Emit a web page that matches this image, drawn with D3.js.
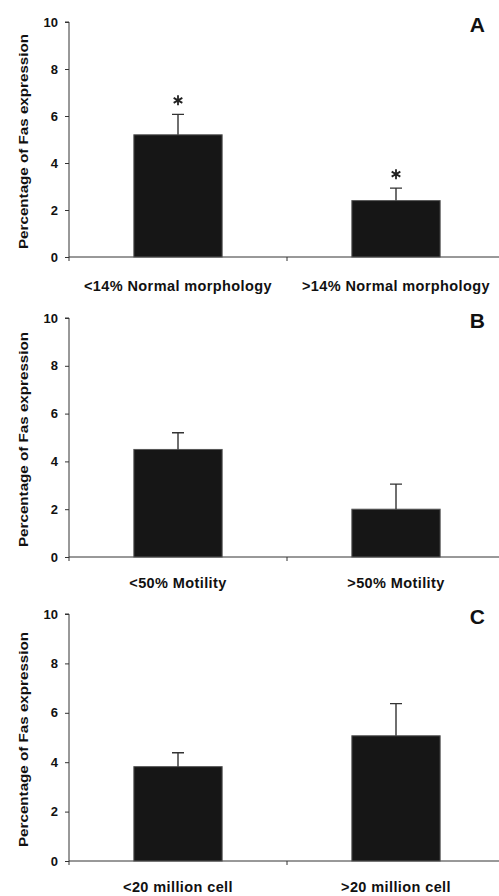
<!DOCTYPE html>
<html lang="en">
<head>
    <meta charset="UTF-8">
    <title>Fas expression</title>
    <script src="https://cdnjs.cloudflare.com/ajax/libs/d3/7.8.5/d3.min.js"></script>
    <style>
        body { margin: 0; padding: 0; background: #fff; }
        svg { display: block; }
        svg text { font-family: "Liberation Sans", Arial, sans-serif; font-weight: 700; }
    </style>
</head>
<body>
    <svg id="chart" width="499" height="896"></svg>

    <script>
        // values
        const yTicks = [0, 2, 4, 6, 8, 10];
        const yTitle = "Percentage of Fas expression";

        const catsA = ["<14% Normal morphology", ">14% Normal morphology"];
        const meansA = [5.2, 2.4];
        const errA = [0.87, 0.53];
        const starA = [true, true];

        const catsB = ["<50% Motility", ">50% Motility"];
        const meansB = [4.5, 2.0];
        const errB = [0.7, 1.05];
        const starB = [false, false];

        const catsC = ["<20 million cell", ">20 million cell"];
        const meansC = [3.82, 5.07];
        const errC = [0.56, 1.3];
        const starC = [false, false];

        const svg = d3.select("#chart");
        const x0 = 69, x1 = 505;

        // panel placement
        const panels = [
            { letter: "A", cats: catsA, means: meansA, err: errA, star: starA, top: 22, bottom: 257, labelY: 291 },
            { letter: "B", cats: catsB, means: meansB, err: errB, star: starB, top: 318, bottom: 557, labelY: 588 },
            { letter: "C", cats: catsC, means: meansC, err: errC, star: starC, top: 614, bottom: 861, labelY: 892 }
        ];

        panels.forEach(p => {
            const g = svg.append("g");
            const x = d3.scaleBand().domain(p.cats).range([x0, x1]).padding(0);
            const y = d3.scaleLinear().domain([0, 10]).range([p.bottom, p.top]);
            const barW = x.bandwidth() * 0.405;
            const rows = p.cats.map((c, i) => ({ cat: c, v: p.means[i], e: p.err[i], s: p.star[i] }));

            // y axis
            const yAxis = g.append("g")
                .attr("transform", `translate(${x0},0)`)
                .call(d3.axisLeft(y).tickValues(yTicks).tickSize(4).tickPadding(7))
                .attr("font-family", null)
                .attr("font-size", null);
            yAxis.select(".domain").attr("stroke", "#333").attr("d", `M-4,${p.top}H0V${p.bottom + 4}`);
            yAxis.selectAll(".tick line").attr("stroke", "#333");
            yAxis.selectAll(".tick text")
                .attr("fill", "#111")
                .attr("font-size", 13);

            // x axis with ticks between categories
            g.append("line")
                .attr("x1", x0).attr("x2", x1)
                .attr("y1", p.bottom).attr("y2", p.bottom)
                .attr("stroke", "#333");
            g.selectAll(".xtick")
                .data(p.cats.slice(1))
                .join("line")
                .attr("x1", d => x(d)).attr("x2", d => x(d))
                .attr("y1", p.bottom).attr("y2", p.bottom + 4)
                .attr("stroke", "#333");

            // bars
            g.selectAll(".bar")
                .data(rows)
                .join("rect")
                .attr("x", d => x(d.cat) + x.bandwidth() / 2 - barW / 2)
                .attr("y", d => y(d.v))
                .attr("width", barW)
                .attr("height", d => y(0) - y(d.v))
                .attr("fill", "#161616")
                .attr("stroke", "#555")
                .attr("stroke-width", 1);

            // error bars (upper only)
            const cx = d => x(d.cat) + x.bandwidth() / 2;
            g.selectAll(".err")
                .data(rows)
                .join("path")
                .attr("d", d => `M${cx(d)},${y(d.v)}V${y(d.v + d.e)}M${cx(d) - 6},${y(d.v + d.e)}H${cx(d) + 6}`)
                .attr("stroke", "#333")
                .attr("stroke-width", 1.4)
                .attr("fill", "none");

            // significance asterisks
            g.selectAll(".star")
                .data(rows.filter(d => d.s))
                .join("path")
                .attr("d", d3.symbol(d3.symbolAsterisk, 70))
                .attr("transform", d => `translate(${cx(d)},${y(d.v + d.e) - 14})`)
                .attr("stroke", "#222")
                .attr("stroke-width", 1.8)
                .attr("fill", "none");

            // category labels
            g.selectAll(".xlab")
                .data(rows)
                .join("text")
                .attr("x", cx)
                .attr("y", p.labelY)
                .attr("text-anchor", "middle")
                .attr("fill", "#111")
                .attr("font-size", 14.5)
                .attr("letter-spacing", 0.4)
                .text(d => d.cat);

            // y title
            g.append("text")
                .attr("transform", `translate(28,${(p.top + p.bottom) / 2 + 2}) rotate(-90)`)
                .attr("text-anchor", "middle")
                .attr("fill", "#111")
                .attr("textLength", 215)
                .attr("lengthAdjust", "spacingAndGlyphs")
                .attr("font-size", 13.5)
                .text(yTitle);

            // panel letter
            g.append("text")
                .attr("x", 485)
                .attr("y", p.top + 10)
                .attr("text-anchor", "end")
                .attr("fill", "#111")
                .attr("font-size", 21)
                .text(p.letter);
        });
    </script>
</body>
</html>
